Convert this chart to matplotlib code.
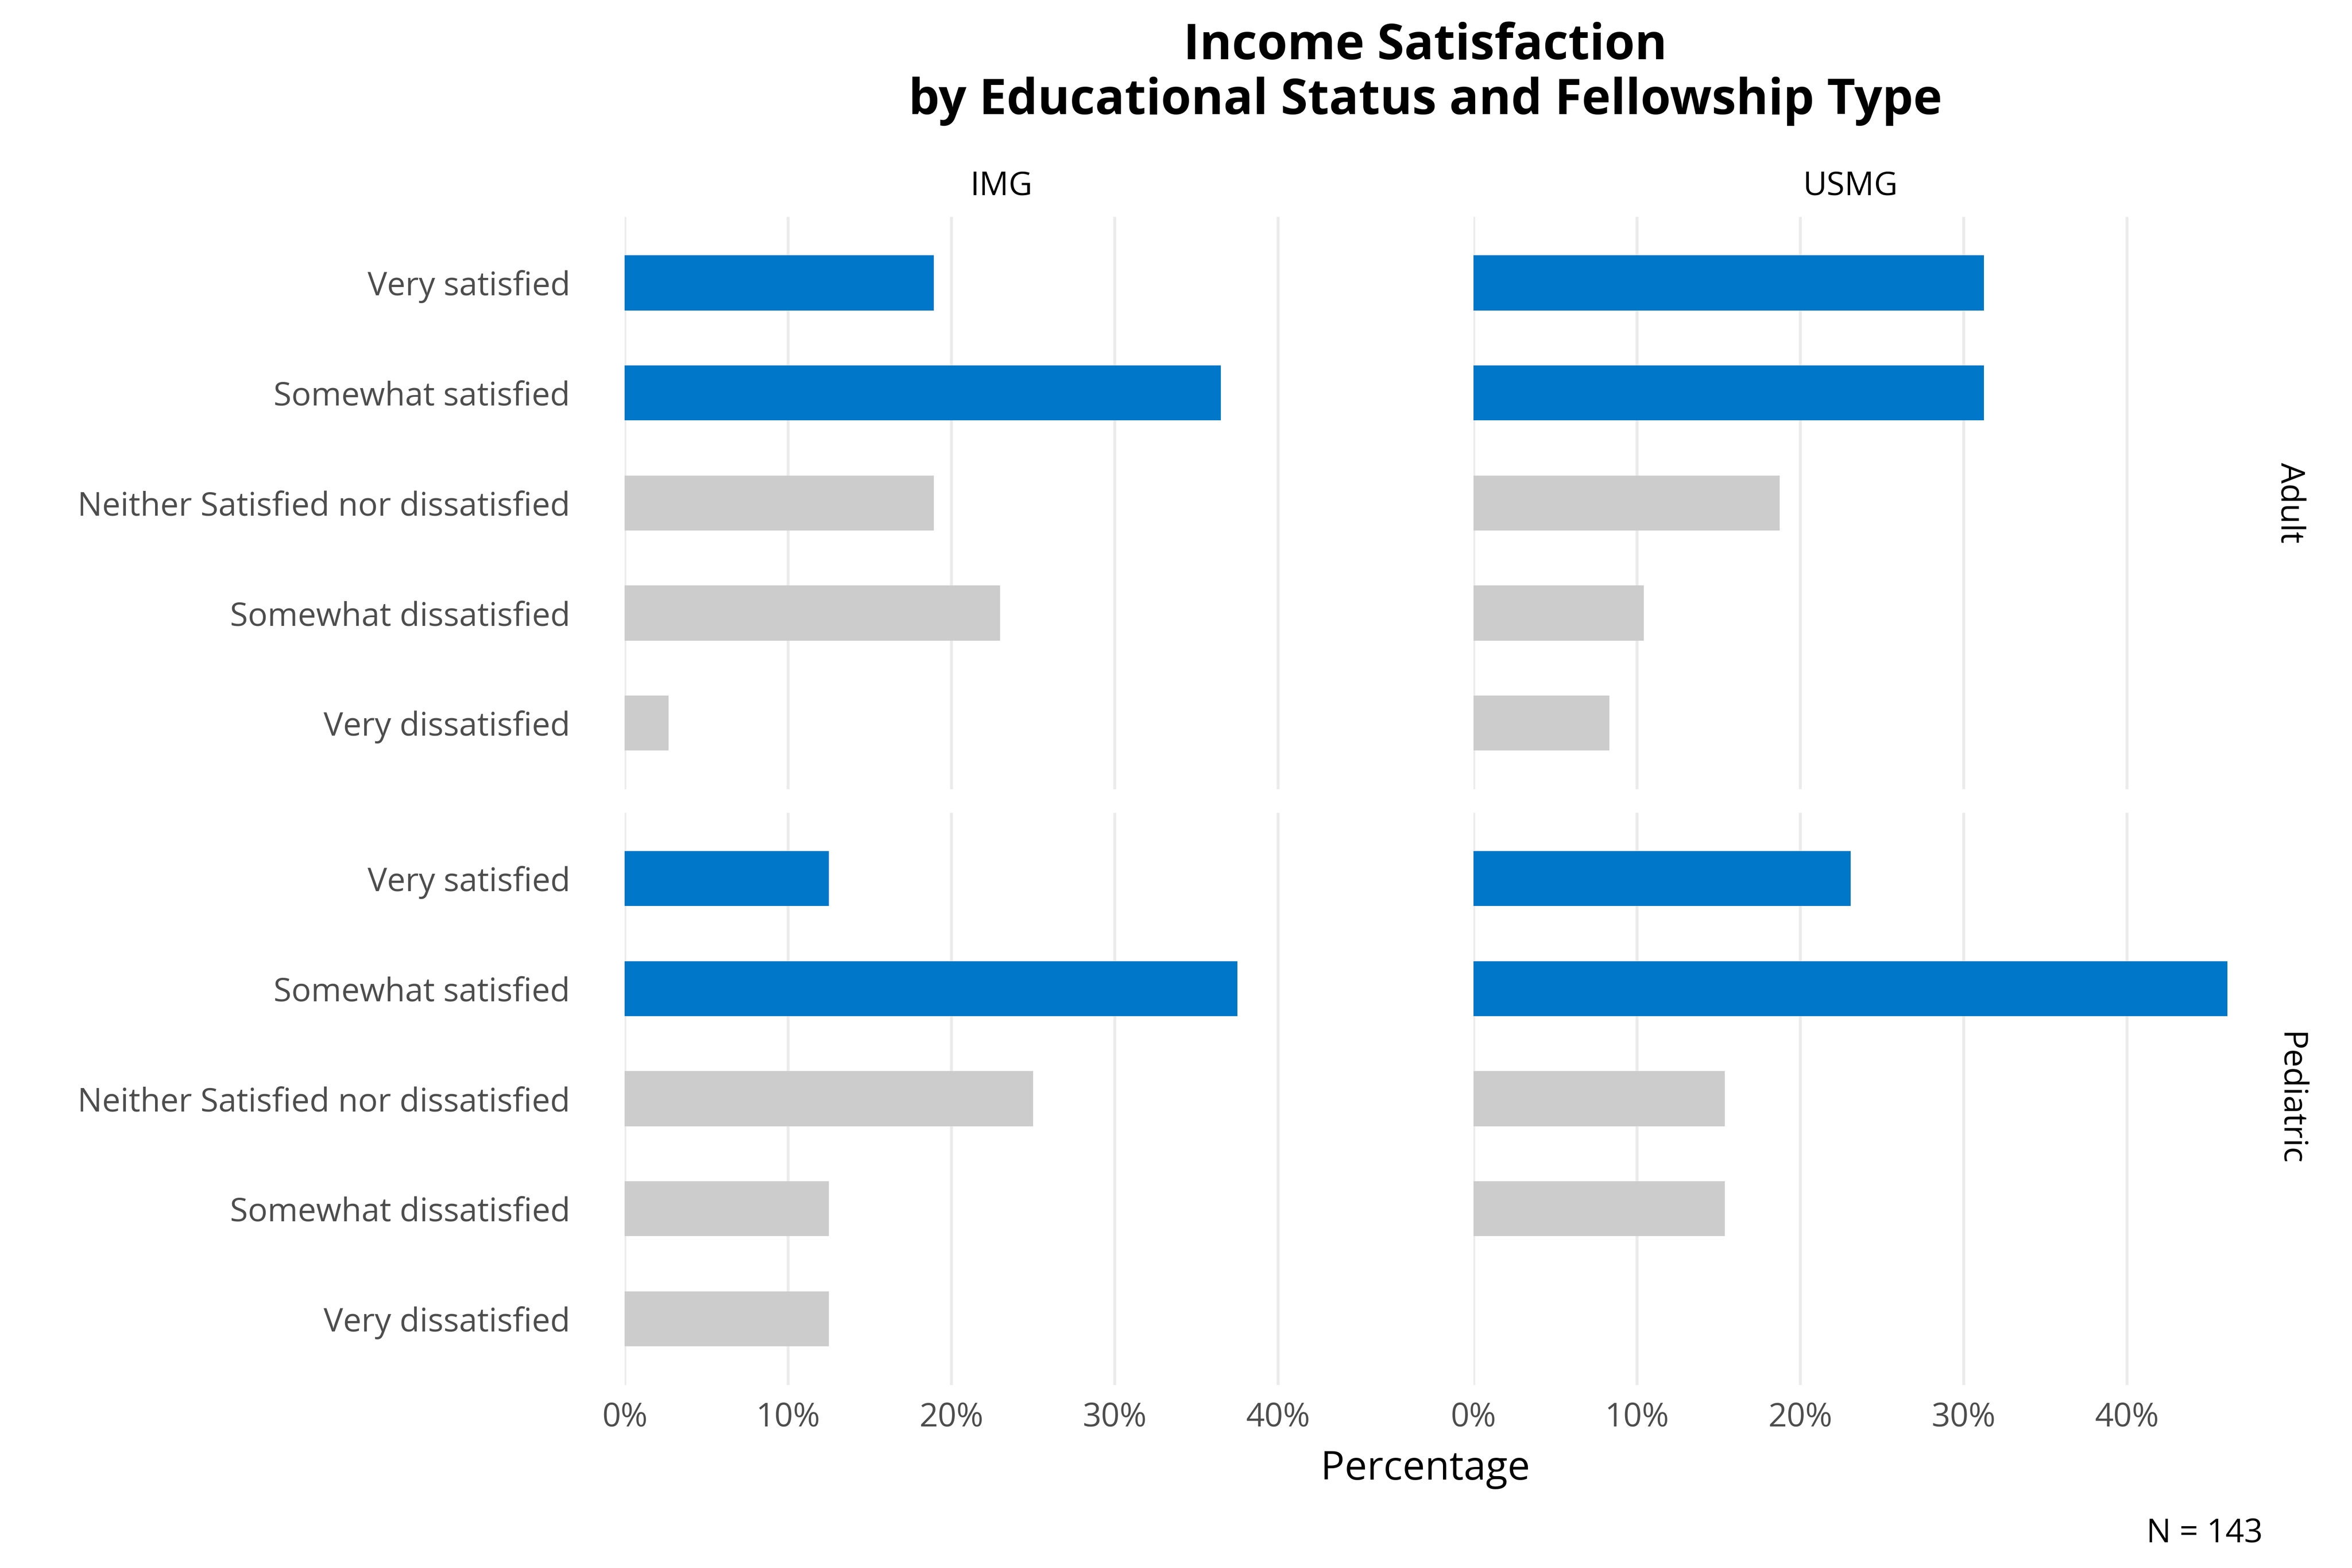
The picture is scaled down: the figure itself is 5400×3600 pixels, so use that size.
import matplotlib
matplotlib.use("Agg")
import matplotlib.pyplot as plt
from matplotlib.ticker import FuncFormatter

plt.rcParams['font.family'] = ['Open Sans', 'DejaVu Sans']

# ------------------
# data (percent of respondents in each panel)
levels = ["Very satisfied", "Somewhat satisfied", "Neither Satisfied nor dissatisfied",
          "Somewhat dissatisfied", "Very dissatisfied"]
status = ["IMG", "USMG"]
fellowship = ["Adult", "Pediatric"]

img_adult = [18.92, 36.49, 18.92, 22.97, 2.70]
usmg_adult = [31.25, 31.25, 18.75, 10.42, 8.33]
img_pediatric = [12.5, 37.5, 25.0, 12.5, 12.5]
usmg_pediatric = [23.08, 46.15, 15.38, 15.38, 0.0]

ticks = [0, 10, 20, 30, 40]
total_n = 143

values = {("Adult", "IMG"): img_adult, ("Adult", "USMG"): usmg_adult,
          ("Pediatric", "IMG"): img_pediatric, ("Pediatric", "USMG"): usmg_pediatric}

blue = "#0077C8"
grey = "#CCCCCC"
colors = [blue, blue, grey, grey, grey]

# no padding on the x scale: longest bar touches the panel edge
xmax = max(max(v) for v in values.values())

fig = plt.figure(figsize=(18, 12), dpi=300)

# panel positions in figure fraction
lefts = [0.2656, 0.6265]
bottoms = [0.4967, 0.1168]
w = 0.3205
h = 0.3650

ypos = list(range(len(levels), 0, -1))

for r, fel in enumerate(fellowship):
    for c, st in enumerate(status):
        ax = fig.add_axes([lefts[c], bottoms[r], w, h])
        ax.barh(ypos, values[(fel, st)], height=0.5, color=colors, zorder=2)
        ax.set_xlim(0, xmax)
        ax.set_ylim(0.4, len(levels) + 0.6)
        ax.set_xticks(ticks)
        ax.xaxis.set_major_formatter(FuncFormatter(lambda v, p: "%d%%" % v))
        ax.grid(axis="x", color="#EBEBEB", lw=1.6, zorder=0)
        ax.tick_params(length=0, labelsize=18, labelcolor="#4D4D4D", pad=9)
        for s in ax.spines.values():
            s.set_visible(False)
        if c == 0:
            ax.set_yticks(ypos)
            ax.set_yticklabels(levels)
            ax.tick_params(axis="y", pad=30)
        else:
            ax.set_yticks([])
        if r == 0:
            ax.set_xticklabels([])
            ax.set_title(st, fontsize=18, pad=12)
        if c == 1:
            ax.text(1.082, 0.5, fel, transform=ax.transAxes, rotation=-90,
                    ha="center", va="center", fontsize=18)

fig.text(0.606, 0.953, "Income Satisfaction\nby Educational Status and Fellowship Type",
         ha="center", va="center", fontsize=27, fontweight="bold", linespacing=1.15)
fig.text(0.606, 0.063, "Percentage", ha="center", va="center", fontsize=22)
fig.text(0.962, 0.022, "N = %d" % total_n, ha="right", va="center", fontsize=18)

fig.savefig("out.png", dpi=300, facecolor="white")
